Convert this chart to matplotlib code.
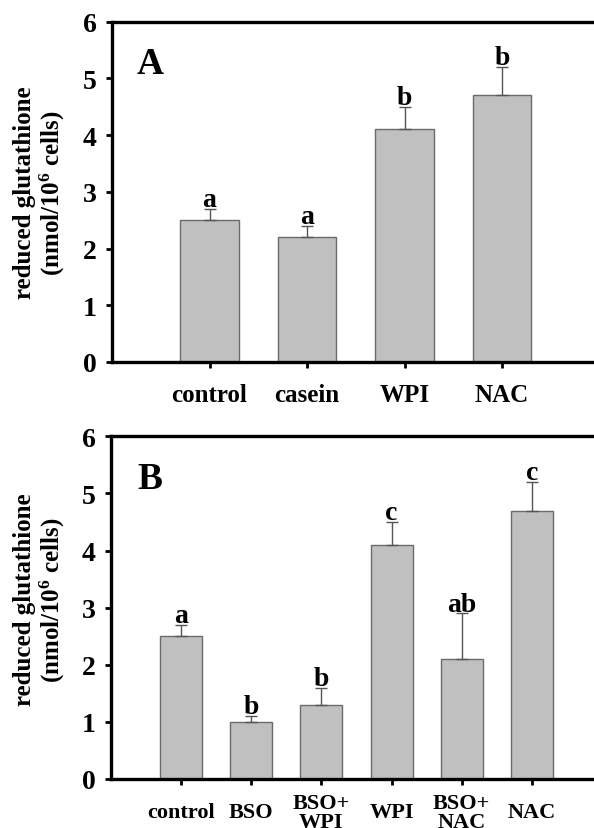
import matplotlib.pyplot as plt
import numpy as np

plt.rcParams['font.family'] = ['Liberation Serif', 'DejaVu Serif']
plt.rcParams['font.weight'] = 'bold'
plt.rcParams['mathtext.default'] = 'regular'

# --- DATA --------------------------- #
cats_a = ["control", "casein", "WPI", "NAC"]
vals_a = [2.5, 2.2, 4.1, 4.7]
errs_a = [0.2, 0.2, 0.4, 0.5]
sig_a = ["a", "a", "b", "b"]

cats_b = ["control", "BSO", "BSO+\nWPI", "WPI", "BSO+\nNAC", "NAC"]
vals_b = [2.5, 1.0, 1.3, 4.1, 2.1, 4.7]
errs_b = [0.2, 0.1, 0.3, 0.4, 0.8, 0.5]
sig_b = ["a", "b", "b", "c", "ab", "c"]
# ------------------------------------ #

fig = plt.figure(figsize=(5.94, 8.29), dpi=100)
ax_a = fig.add_axes([112/594, 1-363/829, 487.5/594, 340.4/829])
ax_b = fig.add_axes([111/594, 1-780/829, 491/594, 342.7/829])

def panel(ax, cats, vals, errs, sig, letter, letter_x, tick_size):
    x = np.arange(1, len(cats)+1)
    ax.bar(x, vals, width=0.6, color="#c0c0c0", edgecolor="#6a6a6a", linewidth=1.0, zorder=2)
    ax.errorbar(x, vals, yerr=[np.zeros(len(errs)), errs], fmt="none",
                ecolor="#555555", elinewidth=1.0, capsize=4.5, capthick=1.0, zorder=3)
    for xi, v, e, s in zip(x, vals, errs, sig):
        ax.annotate(s, (xi, v+e), xytext=(0, 2), textcoords="offset points",
                    ha="center", va="baseline", fontsize=20, fontweight="bold")
    ax.text(letter_x, 5.1, letter, ha="left", va="baseline", fontsize=27, fontweight="bold")
    ax.set_xlim(0, len(cats)+1)
    ax.set_ylim(0, 6)
    ax.set_yticks(range(7))
    ax.set_xticks(x)
    ax.set_xticklabels(cats, fontsize=tick_size, fontweight="bold", linespacing=0.95)
    ax.tick_params(axis="y", labelsize=20, length=4, width=2, direction="out", pad=7)
    ax.tick_params(axis="x", length=4, width=2, direction="out")
    for s in ["left", "bottom", "top"]:
        ax.spines[s].set_linewidth(2.4)
    ax.spines["right"].set_visible(False)

panel(ax_a, cats_a, vals_a, errs_a, sig_a, "A", 0.25, 18)
ax_a.tick_params(axis="x", pad=11)

panel(ax_b, cats_b, vals_b, errs_b, sig_b, "B", 0.37, 16)
ax_b.tick_params(axis="x", pad=20)
for lbl in ax_b.get_xticklabels():
    lbl.set_va("center")

ylab = "reduced glutathione\n(nmol/10$^{6}$ cells)"
fig.text(40/594, 1-193/829, ylab, rotation=90, ha="center", va="center",
         fontsize=18, fontweight="bold", linespacing=1.1)
fig.text(40/594, 1-600/829, ylab, rotation=90, ha="center", va="center",
         fontsize=18, fontweight="bold", linespacing=1.1)

plt.savefig("out.png", dpi=100)
